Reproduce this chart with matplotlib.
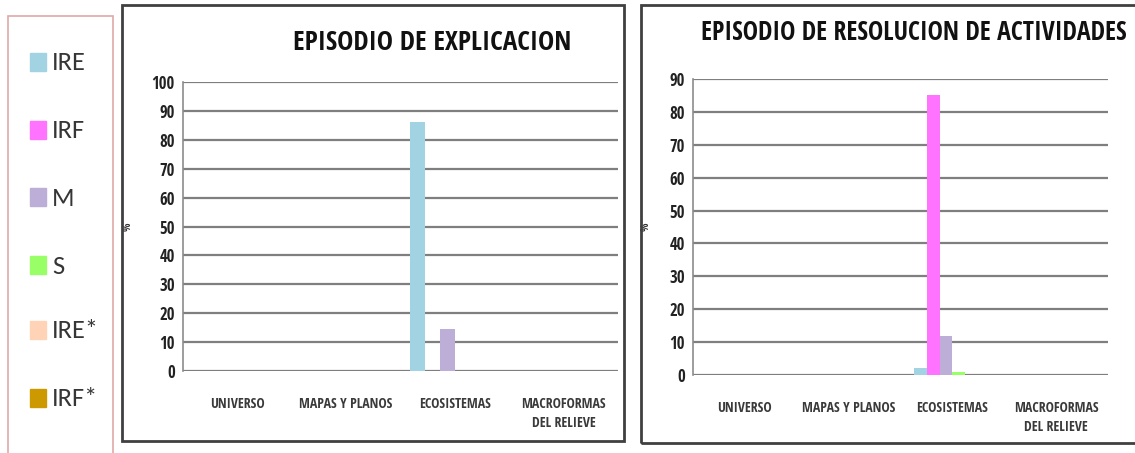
import matplotlib
matplotlib.use("Agg")
import matplotlib.pyplot as plt
from matplotlib.patches import Rectangle
import numpy as np

plt.rcParams['font.family'] = ['Open Sans Condensed', 'DejaVu Sans']

categories = ["UNIVERSO", "MAPAS Y PLANOS", "ECOSISTEMAS", "MACROFORMAS\nDEL RELIEVE"]
series_names = ["IRE", "IRF", "M", "S", "IRE*", "IRF*"]
series_colors = ["#a2d3e2", "#ff73ff", "#bcaed6", "#99ff66", "#ffd3b5", "#cc9900"]

# Percentages per category for each series
explicacion = {
    "IRE":  [0, 0, 86, 0],
    "IRF":  [0, 0, 0, 0],
    "M":    [0, 0, 14.5, 0],
    "S":    [0, 0, 0, 0],
    "IRE*": [0, 0, 0, 0],
    "IRF*": [0, 0, 0, 0],
}
resolucion = {
    "IRE":  [0, 0, 2, 0],
    "IRF":  [0, 0, 85, 0],
    "M":    [0, 0, 12, 0],
    "S":    [0, 0, 1, 0],
    "IRE*": [0, 0, 0, 0],
    "IRF*": [0, 0, 0, 0],
}

W, H = 1135, 453
fig = plt.figure(figsize=(W / 100, H / 100), dpi=100)


def fx(x):
    return x / W


def fy(y):
    return 1 - y / H


def px_axes(x0, y0, x1, y1):
    return fig.add_axes([fx(x0), fy(y1), fx(x1) - fx(x0), fy(y0) - fy(y1)])


def frame(x0, y0, x1, y1, color, lw):
    fig.patches.append(Rectangle((fx(x0), fy(y1)), fx(x1) - fx(x0), fy(y0) - fy(y1),
                                 transform=fig.transFigure, fill=False,
                                 edgecolor=color, linewidth=lw))


def bar_chart(ax, data, ymax, width, title, title_xy, title_size, label_x):
    x = np.arange(len(categories))
    for i, name in enumerate(series_names):
        ax.bar(x + (i - 2.5) * width, data[name], width=width,
               color=series_colors[i], zorder=3)
    ax.set_xlim(-0.5, len(categories) - 0.5)
    ax.set_ylim(0, ymax)
    ax.set_yticks(np.arange(0, ymax + 1, 10))
    ax.yaxis.grid(True, color="#7f7f7f", linewidth=1.6, zorder=1)
    ax.set_axisbelow(True)
    for s in ["top", "right", "bottom"]:
        ax.spines[s].set_visible(False)
    ax.spines["left"].set_color("#8c8c8c")
    ax.spines["left"].set_linewidth(1.2)
    ax.tick_params(axis="y", length=0, pad=6, labelsize=12, labelcolor="#222222")
    ax.tick_params(axis="x", length=0, pad=19, labelsize=10, labelcolor="#3a3a3a")
    ax.set_xticks(x)
    ax.set_xticklabels(categories, linespacing=1.45)
    for lab in ax.get_yticklabels() + ax.get_xticklabels():
        lab.set_fontweight("bold")
    ax.set_ylabel("%", fontsize=8, fontweight="bold", color="#333333")
    x0 = ax.get_position().x0 * W
    ax.yaxis.set_label_coords((label_x - x0) / (ax.get_position().width * W), 0.5)
    fig.text(fx(title_xy[0]), fy(title_xy[1]), title, ha="center", va="center",
             fontsize=title_size, fontweight="bold", color="#111111")


# Legend panel
frame(8, 16, 113, 470, "#e0a8a8", 1.2)
legend_y = [62, 130, 197, 265, 330, 398]
for name, color, y in zip(series_names, series_colors, legend_y):
    fig.patches.append(Rectangle((fx(30), fy(y + 9)), fx(16), 18 / H,
                                 transform=fig.transFigure, color=color))
    fig.text(fx(52), fy(y + 1), name, ha="left", va="center", fontsize=19,
             family=["Carlito", "DejaVu Sans"], color="#363636")

# Chart frames
frame(122, 5, 624, 441, "#404040", 2)
frame(641, 5, 1140, 443, "#404040", 2)

ax1 = px_axes(183, 82, 618, 371)
bar_chart(ax1, explicacion, 100, 0.138, "EPISODIO DE EXPLICACION", (432, 42), 19.6, 134)

ax2 = px_axes(693, 79, 1108, 375)
bar_chart(ax2, resolucion, 90, 0.122, "EPISODIO DE RESOLUCION DE ACTIVIDADES", (914, 33), 18.5, 652)

fig.savefig("out.png", dpi=100, facecolor="white")
